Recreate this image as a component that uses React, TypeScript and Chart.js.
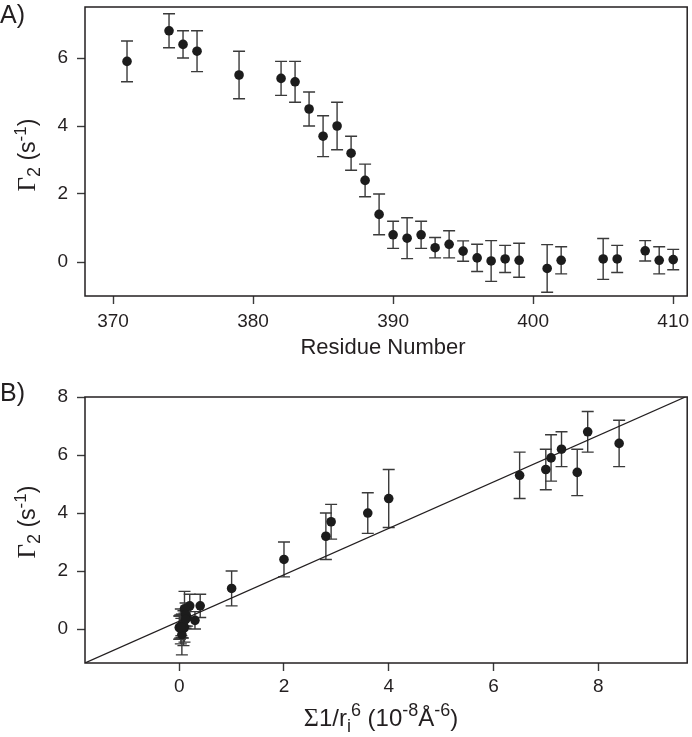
import React, { useEffect, useRef } from 'react';
import { Chart, registerables } from 'chart.js';
Chart.register(...registerables);

// ---------- Panel A data ----------
const residues = [371, 374, 375, 376, 379, 382, 383, 384, 385, 386, 387, 388, 389, 390, 391, 392, 393, 394, 395, 396, 397, 398, 399, 401, 402, 405, 406, 408, 409, 410];
const gammaA = [5.9, 6.8, 6.4, 6.2, 5.5, 5.4, 5.3, 4.5, 3.7, 4.0, 3.2, 2.4, 1.4, 0.8, 0.7, 0.8, 0.42, 0.52, 0.32, 0.12, 0.03, 0.09, 0.05, -0.19, 0.05, 0.09, 0.09, 0.33, 0.05, 0.07];
const errA = [0.6, 0.5, 0.4, 0.6, 0.7, 0.5, 0.6, 0.5, 0.6, 0.7, 0.5, 0.48, 0.6, 0.4, 0.6, 0.4, 0.3, 0.4, 0.3, 0.4, 0.6, 0.4, 0.5, 0.7, 0.4, 0.6, 0.4, 0.3, 0.4, 0.3];
const xTicksA = [370, 380, 390, 400, 410];
const yTicksA = [0, 2, 4, 6];

// ---------- Panel B data ----------
const sumR6 = [1.0, 2.0, 2.8, 2.9, 3.6, 4.0, 6.5, 7.0, 7.1, 7.3, 7.6, 7.8, 8.4, 0.2, 0.4, 0.1, 0.15, 0.12, 0.3, 0.05, 0.08, 0.02, 0.1, 0.05, 0.0, 0.03, 0.07, 0.12, 0.01, 0.04];
const gammaB = [1.4, 2.4, 3.2, 3.7, 4.0, 4.5, 5.3, 5.5, 5.9, 6.2, 5.4, 6.8, 6.4, 0.8, 0.8, 0.7, 0.4, 0.5, 0.3, 0.1, 0.03, 0.09, 0.05, -0.19, 0.05, 0.09, 0.09, 0.33, 0.05, 0.07];
const errB = [0.6, 0.6, 0.8, 0.6, 0.7, 1.0, 0.8, 0.7, 0.8, 0.6, 0.8, 0.7, 0.8, 0.4, 0.4, 0.6, 0.3, 0.4, 0.3, 0.4, 0.6, 0.4, 0.5, 0.7, 0.4, 0.6, 0.4, 0.3, 0.4, 0.3];
const fitSlope = 0.8;
const fitIntercept = 0.27;
const fitRangeX = [-1.8, 9.7];
const xTicksB = [0, 2, 4, 6, 8];
const yTicksB = [0, 2, 4, 6, 8];

const SANS = '"Liberation Sans", Arial, Helvetica, sans-serif';
const SERIF = '"Liberation Serif", "Times New Roman", serif';

type Part = { t: string; font: string; dy?: number };

function drawRich(ctx: CanvasRenderingContext2D, parts: Part[], x: number, y: number, rotate: boolean) {
  ctx.save();
  ctx.translate(x, y);
  if (rotate) ctx.rotate(-Math.PI / 2);
  ctx.fillStyle = '#231f20';
  ctx.textBaseline = 'alphabetic';
  ctx.textAlign = 'left';
  let total = 0;
  const widths = parts.map((p) => {
    ctx.font = p.font;
    const w = ctx.measureText(p.t).width;
    total += w;
    return w;
  });
  let cx = -total / 2;
  parts.forEach((p, i) => {
    ctx.font = p.font;
    ctx.fillText(p.t, cx, p.dy || 0);
    cx += widths[i];
  });
  ctx.restore();
}

const errorBarPlugin = {
  id: 'errbars',
  beforeDatasetsDraw(chart: any, _args: any, opts: any) {
    const { ctx, scales } = chart;
    const xs: number[] = opts.xs;
    const ys: number[] = opts.ys;
    const es: number[] = opts.es;
    if (!xs) return;
    ctx.save();
    ctx.strokeStyle = '#3a3a3a';
    ctx.lineWidth = 1.4;
    const cap = 6;
    for (let i = 0; i < xs.length; i++) {
      const px = scales.x.getPixelForValue(xs[i]);
      const top = scales.y.getPixelForValue(ys[i] + es[i]);
      const bot = scales.y.getPixelForValue(ys[i] - es[i]);
      ctx.beginPath();
      ctx.moveTo(px, top);
      ctx.lineTo(px, bot);
      ctx.moveTo(px - cap, top);
      ctx.lineTo(px + cap, top);
      ctx.moveTo(px - cap, bot);
      ctx.lineTo(px + cap, bot);
      ctx.stroke();
    }
    ctx.restore();
  },
};

const framePlugin = {
  id: 'frame',
  afterDraw(chart: any, _args: any, opts: any) {
    const { ctx, chartArea } = chart;
    ctx.save();
    ctx.strokeStyle = '#231f20';
    ctx.lineWidth = 1.5;
    ctx.strokeRect(chartArea.left, chartArea.top, chartArea.right - chartArea.left, chartArea.bottom - chartArea.top);
    ctx.restore();
    if (opts.draw) opts.draw(ctx, chartArea);
  },
};

function makeOptions(cfg: {
  xMin: number; xMax: number; yMin: number; yMax: number;
  xTicks: number[]; yTicks: number[];
  padTop: number; xHeight: number; xPad: number;
  errs: any; draw: (ctx: CanvasRenderingContext2D, area: any) => void;
}) {
  const tickFont = { family: SANS, size: 19 };
  return {
    animation: false,
    responsive: false,
    maintainAspectRatio: false,
    layout: { padding: { top: cfg.padTop, right: 2, left: 0, bottom: 0 } },
    plugins: {
      legend: { display: false },
      tooltip: { enabled: false },
      errbars: cfg.errs,
      frame: { draw: cfg.draw },
    },
    scales: {
      x: {
        type: 'linear',
        min: cfg.xMin,
        max: cfg.xMax,
        border: { display: false },
        grid: { display: true, drawOnChartArea: false, drawTicks: true, tickLength: 8, tickColor: '#3a3a3a', tickWidth: 1.4 },
        ticks: { font: tickFont, color: '#231f20', padding: cfg.xPad, maxRotation: 0 },
        afterBuildTicks: (s: any) => { s.ticks = cfg.xTicks.map((v) => ({ value: v })); },
        afterFit: (s: any) => { s.height = cfg.xHeight; s.paddingLeft = 0; s.paddingRight = 0; },
      },
      y: {
        type: 'linear',
        min: cfg.yMin,
        max: cfg.yMax,
        border: { display: false },
        grid: { display: true, drawOnChartArea: false, drawTicks: true, tickLength: 8, tickColor: '#3a3a3a', tickWidth: 1.4 },
        ticks: { font: tickFont, color: '#231f20', padding: 9 },
        afterBuildTicks: (s: any) => { s.ticks = cfg.yTicks.map((v) => ({ value: v })); },
        afterFit: (s: any) => { s.width = 85; s.paddingTop = 0; s.paddingBottom = 0; },
      },
    },
  };
}

const pointStyle = {
  pointRadius: 4.8,
  pointBackgroundColor: '#1c1c1c',
  pointBorderColor: '#1c1c1c',
  pointBorderWidth: 0,
  showLine: false,
};

function yTitleParts(): Part[] {
  return [
    { t: 'Γ', font: `25px ${SERIF}` },
    { t: '2', font: `18px ${SANS}`, dy: 5 },
    { t: ' (s', font: `23px ${SANS}` },
    { t: '-1', font: `17px ${SANS}`, dy: -9 },
    { t: ')', font: `23px ${SANS}` },
  ];
}

export default function App() {
  const refA = useRef<HTMLCanvasElement>(null);
  const refB = useRef<HTMLCanvasElement>(null);

  useEffect(() => {
    const chartA = new Chart(refA.current as HTMLCanvasElement, {
      type: 'scatter',
      data: {
        datasets: [{ data: residues.map((r, i) => ({ x: r, y: gammaA[i] })), ...pointStyle } as any],
      },
      options: makeOptions({
        xMin: 368, xMax: 411, yMin: -1, yMax: 7.5,
        xTicks: xTicksA, yTicks: yTicksA,
        padTop: 7, xHeight: 69, xPad: 6,
        errs: { xs: residues, ys: gammaA, es: errA },
        draw: (ctx) => {
          ctx.save();
          ctx.fillStyle = '#231f20';
          ctx.font = `25px ${SANS}`;
          ctx.textAlign = 'left';
          ctx.textBaseline = 'alphabetic';
          ctx.fillText('A)', 0, 23);
          ctx.restore();
          drawRich(ctx, [{ t: 'Residue Number', font: `22px ${SANS}` }], 383, 354, false);
          drawRich(ctx, yTitleParts(), 35, 155, true);
        },
      }) as any,
      plugins: [errorBarPlugin, framePlugin],
    });

    const chartB = new Chart(refB.current as HTMLCanvasElement, {
      type: 'scatter',
      data: {
        datasets: [
          {
            type: 'line',
            data: fitRangeX.map((x) => ({ x, y: fitIntercept + fitSlope * x })),
            borderColor: '#231f20',
            borderWidth: 1.2,
            pointRadius: 0,
            fill: false,
            order: 2,
          } as any,
          { data: sumR6.map((x, i) => ({ x, y: gammaB[i] })), ...pointStyle, order: 1 } as any,
        ],
      },
      options: makeOptions({
        xMin: -1.8, xMax: 9.7, yMin: -1.17, yMax: 8,
        xTicks: xTicksB, yTicks: yTicksB,
        padTop: 32, xHeight: 74, xPad: 4,
        errs: { xs: sumR6, ys: gammaB, es: errB },
        draw: (ctx) => {
          ctx.save();
          ctx.fillStyle = '#231f20';
          ctx.font = `25px ${SANS}`;
          ctx.textAlign = 'left';
          ctx.textBaseline = 'alphabetic';
          ctx.fillText('B)', 0, 36);
          ctx.restore();
          const big = `24px ${SANS}`;
          const sc = `18px ${SANS}`;
          drawRich(ctx, [
            { t: 'Σ', font: `26px ${SERIF}` },
            { t: '1/r', font: big },
            { t: 'i', font: sc, dy: 6 },
            { t: '6', font: sc, dy: -10 },
            { t: ' (10', font: big },
            { t: '-8', font: sc, dy: -10 },
            { t: 'Å', font: big },
            { t: '-6', font: sc, dy: -10 },
            { t: ')', font: big },
          ], 381, 361, false);
          drawRich(ctx, yTitleParts(), 35, 157, true);
        },
      }) as any,
      plugins: [errorBarPlugin, framePlugin],
    });

    return () => {
      chartA.destroy();
      chartB.destroy();
    };
  }, []);

  return (
    <div style={{ position: 'absolute', left: 0, top: 0, width: 692, height: 737, background: '#fff' }}>
      <canvas ref={refA} width={692} height={365} style={{ display: 'block', width: 692, height: 365 }} />
      <canvas ref={refB} width={692} height={372} style={{ display: 'block', width: 692, height: 372 }} />
    </div>
  );
}
